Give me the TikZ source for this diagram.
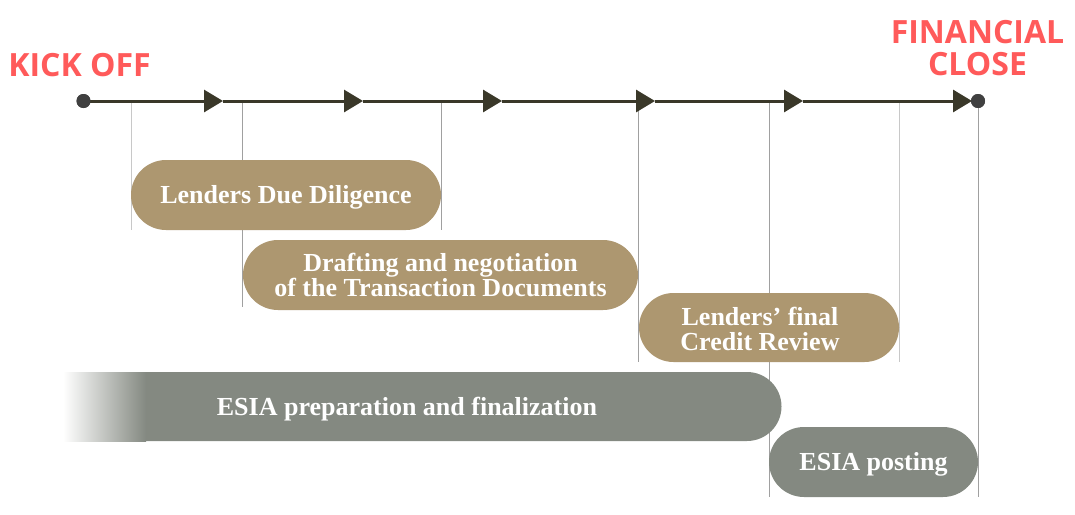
\documentclass[tikz,border=0pt]{standalone}
\usepackage{fontspec}
\setmainfont{Liberation Serif}
\newfontfamily\headfont{Open Sans}
\usetikzlibrary{shapes.misc,arrows.meta}
\definecolor{gold}{HTML}{AD9770}
\definecolor{sage}{HTML}{848981}
\definecolor{tline}{HTML}{3A3829}
\definecolor{dotc}{HTML}{404040}
\definecolor{headred}{HTML}{FF5A5A}
\definecolor{guide}{HTML}{A0A0A0}
\definecolor{guidelight}{HTML}{C8C8C8}
\begin{document}
\begin{tikzpicture}[x=1pt,y=-1pt,
  bar/.style={rounded rectangle, inner sep=0pt, minimum height=70pt, text=white,
    font=\bfseries\fontsize{26}{25.5}\selectfont, align=center},
  oneline/.style={text height=17.5pt, text depth=0pt},
  goldbar/.style={bar, fill=gold},
  sagebar/.style={bar, fill=sage},
  bartext/.style={text=white, font=\bfseries\fontsize{26}{25.5}\selectfont, align=center, inner sep=0pt},
  head/.style={text=headred, font=\headfont\bfseries\fontsize{32}{32}\selectfont, align=center, inner sep=0pt},
  tl/.style={line width=3pt, draw=tline, -{Triangle[length=19pt,width=22pt]}},
  dot/.style={circle, fill=dotc, inner sep=0pt, minimum size=#1},
  guideline/.style={draw=guide, line width=1pt},
  guidelinelight/.style={draw=guidelight, line width=1pt}]
\useasboundingbox[fill=white] (0,0) rectangle (1075,514);

% timeline points
\node[dot=14pt] (k) at (83.5,101) {};
\node[dot=14pt] (f) at (978,101) {};
\coordinate (t1) at (223,101);
\coordinate (t2) at (363,101);
\coordinate (t3) at (502,101);
\coordinate (t4) at (655,101);
\coordinate (t5) at (803,101);
\coordinate (t6) at (972,101);

% guide lines (behind bars)
\coordinate (g1) at (131,101); \coordinate (g1b) at (131,230);
\coordinate (g2) at (242,101); \coordinate (g2b) at (242,307);
\coordinate (g3) at (441,101); \coordinate (g3b) at (441,230);
\coordinate (g4) at (638,101); \coordinate (g4b) at (638,362);
\coordinate (g5) at (769,101); \coordinate (g5b) at (769,497);
\coordinate (g6) at (899,101); \coordinate (g6b) at (899,362);
\coordinate (g7) at (978,101); \coordinate (g7b) at (978,497);
\draw[guidelinelight] (g1) -- (g1b);
\draw[guideline] (g2) -- (g2b);
\draw[guideline] (g3) -- (g3b);
\draw[guideline] (g4) -- (g4b);
\draw[guideline] (g5) -- (g5b);
\draw[guidelinelight] (g6) -- (g6b);
\draw[guideline] (g7) -- (g7b);

% timeline
\draw[tl] (k.center) -- (t1);
\draw[tl] (t1) -- (t2);
\draw[tl] (t2) -- (t3);
\draw[tl] (t3) -- (t4);
\draw[tl] (t4) -- (t5);
\draw[tl] (t5) -- (t6);
\node[dot=14pt] at (k) {};
\node[dot=14pt] at (f) {};

% headings
\node[head, anchor=base] (kick) at (79.5,76) {KICK OFF};
\node[head] (close) at (977.5,47.6) {FINANCIAL\\CLOSE};

% bars
\node[goldbar, oneline, minimum width=310pt] (b1) at (286,195) {Lenders Due Diligence};
\node[goldbar, minimum width=395pt] (b2) at (440.5,275) {Drafting and negotiation\\of the Transaction Documents};
\node[goldbar, minimum width=260pt, minimum height=69pt] (b3) at (769,327.5) {};
\node[bartext] (b3t) at (760,329) {Lenders’ final\\Credit Review};
\node[sagebar, rounded rectangle west arc=none, minimum width=638pt, minimum height=69pt] (b4) at (462.5,406.5) {};
\shade[left color=white, right color=sage] (63,372) rectangle (146,441);
\node[bartext, anchor=base] (b4t) at (407,415) {ESIA preparation and finalization};
\node[sagebar, oneline, minimum width=209pt] (b5) at (873.5,462) {ESIA posting};
\end{tikzpicture}
\end{document}
